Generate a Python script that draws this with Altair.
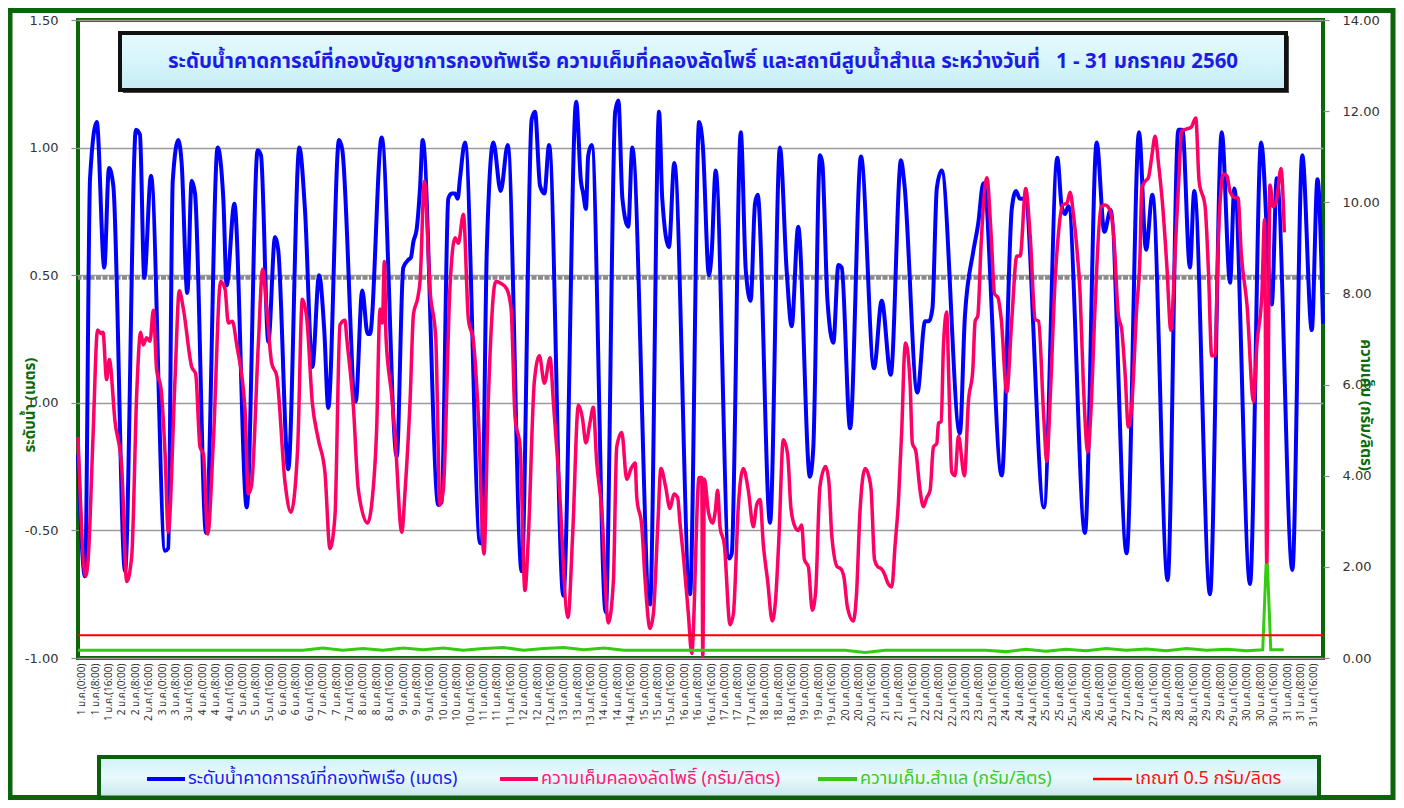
import altair as alt
import pandas as pd

# ---------------- data (hour index from 1 Jan 0:00, value) ----------------
blue_hours = [-2.2, 2.0, 5.0, 9.0, 13.5, 16.3, 18.9, 25.9, 32.4, 34.8, 37.4, 41.4, 49.8, 51.7, 54.4, 57.7,
              59.7, 63.1, 65.7, 67.7, 74.3, 81.2, 84.6, 86.6, 91.2, 98.6, 105.1, 107.1, 111.5, 115.5,
              117.4, 123.4, 130.0, 133.4, 137.8, 141.8, 144.9, 147.3, 153.7, 155.7, 163.7, 167.6,
              170.8, 172.2, 179.2, 188.2, 192.1, 195.1, 196.7, 198.1, 200.1, 202.1, 203.7, 213.0,
              215.0, 219.0, 221.0, 223.0, 224.6, 226.0, 229.0, 238.0, 239.0, 242.0, 245.9, 250.3,
              254.5, 262.8, 268.8, 270.8, 273.8, 276.4, 279.2, 287.7, 295.4, 298.2, 299.6, 301.2,
              302.6, 304.7, 313.0, 318.7, 320.6, 323.0, 326.5, 328.9, 339.5, 344.9, 346.8, 350.8,
              354.0, 363.4, 368.8, 371.0, 374.7, 376.3, 378.7, 386.7, 388.3, 393.7, 396.7, 399.6,
              402.2, 403.8, 411.2, 417.1, 421.1, 424.1, 428.0, 435.0, 437.0, 441.0, 442.4, 445.5,
              449.0, 452.0, 454.0, 459.0, 465.5, 473.3, 477.9, 483.3, 489.4, 491.4, 499.2, 503.8,
              506.2, 508.2, 510.8, 513.7, 524.6, 527.6, 532.5, 535.5, 538.6, 549.6, 555.6, 558.1,
              560.4, 563.4, 574.8, 582.8, 585.4, 587.4, 589.4, 599.3, 606.3, 610.9, 614.6, 624.2,
              631.6, 635.8, 639.6, 648.7, 655.1, 657.5, 662.0, 664.6, 674.0, 681.0, 686.0, 688.5,
              697.9, 704.5, 710.9, 713.9, 723.2, 729.1, 734.8, 738.2, 741.5]
blue_levels = [-0.20, -0.68, 0.88, 1.10, 0.53, 0.92, 0.85, -0.66, 1.07, 1.05, 0.49, 0.89, -0.58, -0.57, 0.87, 1.03,
               0.94, 0.43, 0.87, 0.82, -0.51, 1.00, 0.80, 0.46, 0.78, -0.41, 0.99, 0.97, 0.24, 0.65,
               0.60, -0.26, 1.00, 0.755, 0.14, 0.50, 0.285, -0.02, 1.03, 0.99, 0.005, 0.44,
               0.27, 0.27, 1.04, -0.21, 0.53, 0.56, 0.57, 0.63, 0.68, 0.84, 1.03, -0.40,
               -0.39, 0.80, 0.82, 0.82, 0.80, 0.88, 1.02, -0.55, -0.55, 0.60, 1.02, 0.83,
               1.01, -0.66, 1.11, 1.14, 0.85, 0.82, 1.01, -0.756, 1.18, 0.87, 0.82, 0.76,
               0.97, 1.01, -0.82, 1.14, 1.185, 0.80, 0.69, 1.00, -0.79, 1.14, 0.80, 0.61,
               0.94, -0.75, 1.10, 1.01, 0.50, 0.585, 0.91, -0.61, -0.59, 1.06, 0.52, 0.40,
               0.78, 0.815, -0.47, 1.00, 0.52, 0.30, 0.69, -0.29, -0.18, 0.97, 0.94, 0.40,
               0.235, 0.54, 0.53, -0.10, 0.965, 0.135, 0.40, 0.11, 0.95, 0.86, 0.04, 0.32,
               0.32, 0.37, 0.84, 0.91, -0.12, 0.34, 0.59, 0.70, 0.86, -0.285, 0.76, 0.83,
               0.80, 0.80, -0.41, 0.96, 0.77, 0.74, 0.77, -0.51, 1.02, 0.67, 0.755, -0.59,
               1.06, 0.60, 0.815, -0.695, 1.07, 1.07, 0.53, 0.83, -0.75, 1.06, 0.47, 0.84,
               -0.71, 1.02, 0.385, 0.88, -0.655, 0.97, 0.285, 0.876, 0.31]

pink_hours = [-2.2, 2.4, 4.0, 6.7, 9.5, 11.5, 12.7, 14.9, 16.5, 19.9, 23.9, 26.9, 29.9, 32.9, 35.2, 36.8,
              38.8, 40.8, 42.8, 44.8, 47.4, 49.8, 51.7, 55.7, 58.3, 60.7, 65.7, 68.1, 70.7, 72.7,
              75.3, 78.7, 83.0, 85.6, 87.6, 90.0, 92.6, 97.6, 99.5, 101.5, 105.5, 108.1, 110.5,
              113.5, 116.5, 121.5, 125.0, 129.0, 131.8, 134.4, 137.8, 141.4, 145.3, 148.3, 151.3,
              154.3, 157.3, 158.3, 162.3, 165.3, 170.8, 173.2, 176.2, 178.2, 179.6, 180.8, 181.8,
              185.2, 187.2, 191.2, 193.2, 196.2, 198.2, 200.8, 202.2, 204.7, 208.1, 211.5, 214.0,
              216.0, 220.0, 223.0, 225.0, 228.0, 231.0, 234.0, 237.0, 240.3, 242.9, 247.3, 250.5,
              253.9, 256.5, 258.9, 261.9, 264.8, 266.8, 270.4, 273.4, 276.4, 279.8, 281.8, 284.8,
              290.5, 293.3, 296.7, 299.1, 301.2, 303.6, 305.6, 307.6, 310.6, 314.6, 317.6, 319.6,
              322.6, 325.6, 328.2, 330.6, 331.6, 334.6, 336.6, 339.5, 341.5, 344.1, 346.0, 348.8,
              351.4, 353.8, 356.0, 357.4, 359.4, 362.4, 364.4, 368.8, 370.4, 371.0, 372.0, 374.4,
              376.8, 378.4, 379.9, 381.3, 383.9, 387.3, 389.3, 392.3, 395.2, 398.2, 401.2, 403.2,
              405.2, 407.2, 409.8, 412.5, 414.5, 416.5, 419.1, 421.7, 423.7, 426.1, 428.1, 430.1,
              431.7, 434.1, 436.4, 438.4, 441.0, 444.4, 446.4, 448.0, 451.4, 453.4, 455.4, 457.4,
              460.9, 462.9, 464.9, 468.0, 470.4, 471.6, 473.6, 475.6, 477.6, 479.6, 481.6, 483.9,
              485.9, 487.9, 489.9, 491.5, 492.2, 494.8, 496.2, 498.2, 500.8, 502.8, 504.8, 506.8,
              508.8, 510.8, 511.8, 513.4, 514.8, 516.7, 518.0, 519.7, 521.7, 523.7, 527.3, 529.7,
              532.3, 533.7, 535.3, 537.3, 540.7, 543.3, 545.3, 547.3, 549.3, 552.6, 555.6, 558.6,
              560.6, 563.9, 566.6, 569.6, 571.6, 574.6, 576.5, 578.5, 581.5, 583.5, 585.9, 588.5,
              590.4, 592.4, 594.4, 596.4, 598.3, 601.0, 603.0, 605.3, 608.9, 611.3, 614.3, 616.3,
              619.3, 621.3, 623.3, 625.2, 627.2, 630.2, 632.2, 633.2, 635.2, 637.2, 639.2, 641.2,
              643.2, 645.6, 648.2, 650.6, 653.2, 655.2, 657.2, 660.2, 662.8, 665.5, 667.5, 671.1,
              673.1, 675.0, 677.0, 679.0, 682.1, 684.1, 686.1, 689.1, 690.7, 692.7, 696.1, 700.0,
              702.0, 705.0, 706.6, 707.9, 709.8, 711.8, 713.8, 716.4, 718.4]
pink_salinity = [4.85, 1.80, 2.24, 4.79, 7.20, 7.12, 7.15, 6.11, 6.55, 5.19, 4.20, 1.68, 2.24, 5.83, 7.15, 6.87,
                 7.03, 6.95, 7.63, 6.31, 5.91, 4.48, 2.76, 6.07, 8.06, 7.67, 6.39, 6.23, 4.63, 4.48,
                 2.72, 4.79, 8.26, 8.10, 7.35, 7.39, 6.87, 5.43, 3.60, 3.80, 6.87, 8.53, 7.67,
                 6.47, 6.19, 3.84, 3.20, 4.59, 7.87, 7.47, 5.59, 4.79, 4.08, 2.40, 3.12,
                 7.31, 7.41, 7.03, 5.51, 3.68, 2.96, 3.36, 5.03, 7.66, 7.35, 8.70, 7.03,
                 5.75, 4.87, 2.76, 3.68, 5.67, 7.55, 7.91, 8.30, 10.46, 8.06, 7.03, 3.36,
                 3.68, 8.14, 9.22, 9.10, 9.74, 7.43, 6.95, 5.27, 2.28, 5.67, 8.26, 8.22,
                 8.10, 7.67, 5.27, 4.63, 1.48, 2.64, 6.07, 6.63, 6.03, 6.59, 5.59, 4.08,
                 0.89, 2.72, 5.55, 5.27, 4.72, 5.16, 5.50, 4.32, 3.28, 0.77, 1.68, 4.63,
                 4.95, 3.92, 4.16, 4.28, 3.52, 2.88, 1.68, 0.65, 0.97, 2.88, 4.16, 3.76,
                 3.28, 3.60, 3.52, 2.96, 2.24, 0.97, 0.10, 3.96, 3.96, 0.05, 3.92, 3.20,
                 2.96, 3.20, 3.68, 2.88, 2.48, 0.73, 0.97, 3.36, 4.16, 3.68, 2.88, 3.36,
                 3.48, 2.48, 1.68, 0.81, 1.28, 2.64, 4.79, 4.47, 3.28, 2.88, 2.80, 2.92,
                 2.16, 2.00, 1.05, 1.44, 3.76, 4.20, 3.84, 2.72, 2.00, 1.96, 1.76, 1.12,
                 0.81, 1.44, 3.20, 4.16, 3.96, 3.68, 2.16, 2.00, 1.96, 1.84, 1.64, 1.56,
                 2.48, 3.44, 5.03, 6.71, 6.91, 6.07, 4.71, 4.55, 3.68, 3.32, 3.52, 3.68,
                 4.63, 4.71, 5.15, 5.19, 6.87, 7.59, 6.07, 4.08, 4.00, 4.87, 4.00, 5.63,
                 6.31, 7.39, 7.51, 9.10, 10.54, 9.26, 7.99, 7.91, 7.43, 5.83, 7.43, 8.82,
                 8.82, 10.30, 9.26, 7.43, 7.39, 5.35, 4.32, 5.67, 8.30, 9.33, 9.94, 9.98,
                 10.22, 9.74, 9.02, 8.00, 6.07, 4.52, 5.51, 7.67, 9.90, 9.94, 9.82, 9.34,
                 7.51, 7.19, 6.23, 5.07, 5.51, 7.67, 8.86, 10.30, 10.46, 10.54, 11.00, 11.45,
                 10.86, 9.98, 8.62, 7.19, 8.94, 10.38, 11.57, 11.61, 11.65, 11.85, 10.46, 9.90,
                 8.46, 6.63, 6.63, 9.26, 10.62, 10.58, 10.22, 10.10, 10.10, 8.86, 7.75, 5.63,
                 6.87, 7.99, 9.62, 2.04, 10.38, 9.90, 10.06, 10.74, 9.34]

green_hours = [-2.2, 12, 24, 36, 48, 60, 72, 84, 96, 108, 120, 132,
               144, 156, 168, 180, 192, 204, 216, 228, 240, 252, 264, 276, 288, 300, 312, 324, 336,
               348, 360, 372, 384, 396, 408, 420, 432, 444, 456, 468, 480, 492, 504, 516, 528, 540,
               552, 564, 576, 588, 600, 612, 624, 636, 648, 660, 672, 684, 696,
               705.5, 707.5, 708.3, 710.3, 718.0]
green_salinity = [0.17, 0.17, 0.17, 0.17, 0.17, 0.17, 0.17, 0.17, 0.17, 0.17, 0.17, 0.17,
                  0.22, 0.17, 0.21, 0.17, 0.22, 0.18, 0.22, 0.17, 0.21, 0.23, 0.17, 0.21, 0.23, 0.18, 0.22, 0.17, 0.17,
                  0.17, 0.17, 0.17, 0.17, 0.17, 0.17, 0.17, 0.17, 0.17, 0.17, 0.12, 0.17, 0.17, 0.17, 0.17, 0.17, 0.17,
                  0.14, 0.19, 0.15, 0.19, 0.16, 0.21, 0.17, 0.20, 0.16, 0.21, 0.17, 0.19, 0.16,
                  0.18, 2.04, 2.04, 0.18, 0.18]

threshold_salinity = 0.5
reference_level = 0.49
left_ticks = [-1.0, -0.5, 0.0, 0.5, 1.0, 1.5]
right_ticks = [0, 2, 4, 6, 8, 10, 12, 14]
tick_hours = list(range(0, 737, 8))   # labels "d ม.ค.(h:00)" every 8 hours

title_text = ("ระดับน้ำคาดการณ์ที่กองบัญชาการกองทัพเรือ ความเค็มที่คลองลัดโพธิ์ และสถานีสูบน้ำสำแล "
              "ระหว่างวันที่\u00a0\u00a0\u00a01 - 31 มกราคม 2560")
legend_names = ["ระดับน้ำคาดการณ์ที่กองทัพเรือ (เมตร)", "ความเค็มคลองลัดโพธิ์ (กรัม/ลิตร)",
                "ความเค็ม.สำแล (กรัม/ลิตร)", "เกณฑ์ 0.5 กรัม/ลิตร"]
left_title = "ระดับน้ำ (เมตร)"
right_title = "ความเค็ม (กรัม/ลิตร)"

# ---------------- build ----------------
blue_df = pd.DataFrame({"hour": blue_hours, "level": blue_levels})
pink_df = pd.DataFrame({"hour": pink_hours, "sal": pink_salinity})
green_df = pd.DataFrame({"hour": green_hours, "sal": green_salinity})
one = alt.Data(values=[{"k": 1}])

THAI = "Tahoma, 'Noto Sans Thai', 'Leelawadee UI', 'DejaVu Sans', sans-serif"
NUM = "DejaVu Sans"
W, H = 1245, 638

x_enc = alt.X("hour:Q",
              scale=alt.Scale(domain=[-2.2, 741.5], nice=False, zero=False),
              axis=alt.Axis(values=tick_hours, title="", grid=False, ticks=False, domain=False,
                            labelAngle=270, labelAlign="right", labelBaseline="middle",
                            labelOverlap=False, labelFlush=False, labelBound=False,
                            labelFont=THAI, labelFontSize=10, labelColor="#333333", labelPadding=5,
                            labelExpr="(floor(datum.value/24)+1) + ' ม.ค.(' + (datum.value%24) + ':00)'"))

y_left = alt.Y("level:Q",
               scale=alt.Scale(domain=[-1.0, 1.5], nice=False, zero=False),
               axis=alt.Axis(orient="left", values=left_ticks, title="", grid=True,
                             gridColor="#9C9C9C", gridWidth=1.5, domain=False,
                             tickSize=7, tickColor="#8C8C8C", tickWidth=1.2,
                             labelFont=NUM, labelFontSize=13, labelColor="#333333", labelPadding=13,
                             labelExpr="replace(format(datum.value, '.2f'), '\u2212', '-')"))

blue = alt.Chart(blue_df).mark_line(color="#0000FF", strokeWidth=4, interpolate="monotone").encode(
    x=x_enc, y=y_left)
dashed = alt.Chart(one).mark_rule(color="#8A8A8A", strokeWidth=4, strokeDash=[5, 1.5]).encode(
    y=alt.datum(reference_level))
left_group = alt.layer(dashed, blue)

y_right_scale = alt.Scale(domain=[0, 14], nice=False, zero=False)
y_right_axis = alt.Axis(orient="right", values=right_ticks, title="", grid=False, domain=False,
                        tickSize=6, tickColor="#8C8C8C", tickWidth=1.2, format=".2f",
                        labelFont=NUM, labelFontSize=13, labelColor="#333333", labelPadding=13)

pink = alt.Chart(pink_df).mark_line(color="#FF0066", strokeWidth=3.5, interpolate="monotone").encode(
    x=x_enc, y=alt.Y("sal:Q", scale=y_right_scale, axis=y_right_axis))
green = alt.Chart(green_df).mark_line(color="#33CC11", strokeWidth=3).encode(
    x=x_enc, y=alt.Y("sal:Q", scale=y_right_scale, axis=y_right_axis))
red = alt.Chart(one).mark_rule(color="#FF0000", strokeWidth=2).encode(
    y=alt.datum(threshold_salinity))
right_group = alt.layer(pink, green, red)

cyan_grad = alt.LinearGradient(gradient="linear", x1=0, x2=0, y1=0, y2=1,
                               stops=[alt.GradientStop(color="#E6FAFD", offset=0),
                                      alt.GradientStop(color="#D3F4FA", offset=0.6),
                                      alt.GradientStop(color="#C4ECF3", offset=1)])
legend_grad = alt.LinearGradient(gradient="linear", x1=0, x2=0, y1=0, y2=1,
                                 stops=[alt.GradientStop(color="#CFF3FA", offset=0),
                                        alt.GradientStop(color="#E8FAFD", offset=0.5),
                                        alt.GradientStop(color="#C9E6EA", offset=1)])


def box(x1, x2, y1, y2, **kw):
    return alt.Chart(one).mark_rect(**kw).encode(
        x=alt.value(x1), x2=alt.value(x2), y=alt.value(y1), y2=alt.value(y2))


def label(txt, x, y, **kw):
    return alt.Chart(one).mark_text(text=txt, **kw).encode(x=alt.value(x), y=alt.value(y))


def seg(x1, x2, y, color, width):
    return alt.Chart(one).mark_rule(color=color, strokeWidth=width).encode(
        x=alt.value(x1), x2=alt.value(x2), y=alt.value(y))


outer = box(-68, 1315, -9.5, 777.5, fillOpacity=0, stroke="#0B650B", strokeWidth=5)
title_shadow = box(45, 1211, 16, 73, color="#4A4A4A")
title_box = box(42, 1208, 13, 70, fill=cyan_grad, stroke="#111111", strokeWidth=4)
title_lbl = label(title_text, 625, 42, font=THAI, fontSize=20.5, fontWeight="bold", color="#1C1CE8",
                  align="center", baseline="middle")
legend_box = box(21, 1241, 737, 777.5, fill=legend_grad, stroke="#0B5E0B", strokeWidth=4)
leg_items = [
    seg(69, 107, 759, "#0000FF", 4),
    label(legend_names[0], 110, 759, font=THAI, fontSize=18, color="#1A1AF0", align="left", baseline="middle"),
    seg(422, 460, 759, "#FF0066", 4),
    label(legend_names[1], 463, 759, font=THAI, fontSize=18, color="#FF1A75", align="left", baseline="middle"),
    seg(740, 779, 759, "#33CC11", 4),
    label(legend_names[2], 782, 759, font=THAI, fontSize=18, color="#3BCC22", align="left", baseline="middle"),
    seg(1015, 1054, 759, "#FF0000", 2.5),
    label(legend_names[3], 1057, 759, font=THAI, fontSize=18, color="#FF1010", align="left", baseline="middle"),
]
ltitle = label(left_title, -48, 385, font=THAI, fontSize=15, fontWeight="bold", color="#0B6B0B",
               angle=270, align="center", baseline="middle")
rtitle = label(right_title, 1288, 385, font=THAI, fontSize=15, fontWeight="bold", color="#0B6B0B",
               angle=90, align="center", baseline="middle")

chart = alt.layer(
    outer, title_shadow, title_box, title_lbl, legend_box, *leg_items,
    left_group, right_group, ltitle, rtitle
).resolve_scale(y="independent").properties(
    width=W, height=H,
    autosize=alt.AutoSizeParams(type="none"),
    padding={"left": 70, "top": 12, "right": 1388 - 70 - W, "bottom": 792 - 12 - H},
    background="white",
).configure_view(stroke="#0B650B", strokeWidth=4, fill="white")

chart.save("out.html", embed_options={"renderer": "svg", "actions": False})
